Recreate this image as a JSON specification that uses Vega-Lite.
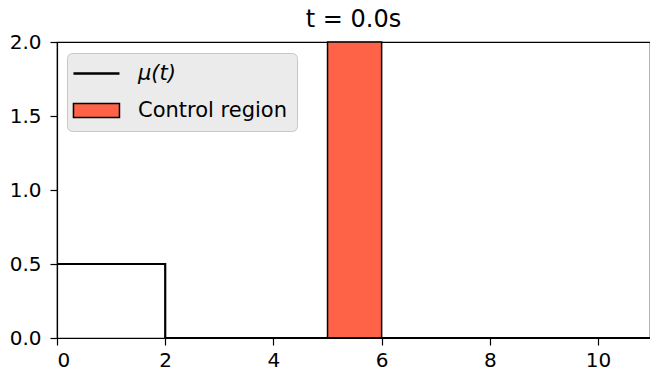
{
  "$schema": "https://vega.github.io/schema/vega-lite/v6.json",
  "width": 593,
  "height": 296,
  "autosize": {"type": "none"},
  "padding": {"left": 57, "top": 42, "right": 0, "bottom": 33},
  "background": "white",
  "title": {"text": "t = 0.0s", "fontSize": 24, "font": "DejaVu Sans", "fontWeight": "normal", "color": "black", "anchor": "middle", "offset": 0, "frame": "group"},
  "config": {
    "view": {"stroke": "black", "strokeWidth": 1.2},
    "axis": {"domainColor": "black", "tickColor": "black", "labelColor": "black", "labelFont": "DejaVu Sans", "labelFontSize": 20, "tickSize": 7, "grid": false, "title": null, "domainWidth": 1.2, "tickWidth": 1.2},
    "axisY": {"labelPadding": 9},
    "axisX": {"labelPadding": 5},
    "legend": {"labelFont": "DejaVu Sans", "labelFontSize": 21, "labelColor": "black"}
  },
  "datasets": {
    "mu": [
      {"t": 0, "value": 0.5, "series": "μ(t)"},
      {"t": 2, "value": 0.5, "series": "μ(t)"},
      {"t": 2, "value": 0, "series": "μ(t)"},
      {"t": 11, "value": 0, "series": "μ(t)"}
    ],
    "region": [
      {"start": 5, "end": 6, "low": 0, "high": 2, "series": "Control region"}
    ]
  },
  "layer": [
    {
      "data": {"name": "region"},
      "mark": {"type": "rect", "stroke": "black", "strokeWidth": 1.5, "fill": "#ff6347", "opacity": 1},
      "encoding": {
        "x": {"field": "start", "type": "quantitative", "scale": {"domain": [0, 10.96], "nice": false, "zero": false}, "axis": {"values": [0, 2, 4, 6, 8, 10], "format": "d"}},
        "x2": {"field": "end"},
        "y": {"field": "low", "type": "quantitative", "scale": {"domain": [0, 2], "nice": false}, "axis": {"values": [0, 0.5, 1, 1.5, 2], "format": ".1f"}},
        "y2": {"field": "high"}
      }
    },
    {
      "data": {"name": "mu"},
      "mark": {"type": "line", "strokeWidth": 2.2, "clip": true},
      "encoding": {
        "x": {"field": "t", "type": "quantitative"},
        "y": {"field": "value", "type": "quantitative"},
        "order": {"field": "t"},
        "stroke": {
          "field": "series", "type": "nominal",
          "scale": {"domain": ["μ(t)", "Control region"], "range": ["#000000", "#000000"]},
          "legend": {
            "title": null, "orient": "none", "legendX": 10, "legendY": 11,
            "fillColor": "#ebebeb", "strokeColor": "#c8c8c8", "cornerRadius": 5, "padding": 10,
            "symbolSize": 2116, "labelOffset": 40, "rowPadding": 15,
            "encode": {
              "symbols": {"update": {
                "shape": {"signal": "datum.value === 'μ(t)' ? 'M-0.61,0H1.39' : 'M-0.61,-0.3H1.39V0.3H-0.61Z'"},
                "strokeWidth": {"signal": "datum.value === 'μ(t)' ? 2.5 : 1.5"},
                "fill": {"signal": "datum.value === 'μ(t)' ? 'transparent' : '#ff6347'"},
                "fillOpacity": {"value": 1},
                "opacity": {"value": 1}
              }},
              "labels": {"update": {"fontStyle": {"signal": "datum.value === 'μ(t)' ? 'italic' : 'normal'"}}}
            }
          }
        }
      }
    }
  ]
}
